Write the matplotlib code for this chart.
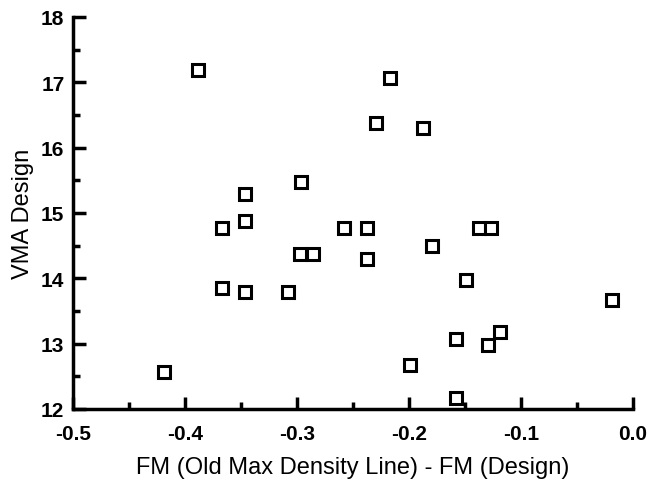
import matplotlib
matplotlib.use("Agg")
import matplotlib.pyplot as plt
from matplotlib.ticker import MultipleLocator

fm_diff = [-0.419, -0.388, -0.367, -0.367, -0.346, -0.346, -0.346, -0.308, -0.296,
           -0.297, -0.286, -0.258, -0.2375, -0.2375, -0.229, -0.217, -0.187, -0.179,
           -0.149, -0.137, -0.127, -0.158, -0.129, -0.119, -0.199, -0.158, -0.019]
vma_design = [12.57, 17.19, 14.77, 13.85, 15.29, 14.88, 13.79, 13.79, 15.48,
              14.37, 14.37, 14.77, 14.77, 14.30, 16.38, 17.07, 16.30, 14.50,
              13.98, 14.77, 14.77, 13.07, 12.98, 13.18, 12.67, 12.17, 13.67]

x_ticks = [-0.5, -0.4, -0.3, -0.2, -0.1, 0.0]
x_tick_labels = ["-0.5", "-0.4", "-0.3", "-0.2", "-0.1", "0.0"]
y_ticks = [12, 13, 14, 15, 16, 17, 18]

plt.rcParams["font.family"] = ["Liberation Sans", "DejaVu Sans"]

fig = plt.figure(figsize=(6.62, 4.85), dpi=100)
ax = fig.add_axes([0.110, 0.155, 0.846, 0.808])

ax.plot(fm_diff, vma_design, linestyle="none", marker="s", markersize=8.5,
        markerfacecolor="white", markeredgecolor="black", markeredgewidth=2.2,
        clip_on=False)

ax.set_xlim(-0.5, 0.0)
ax.set_ylim(12, 18)
ax.set_xticks(x_ticks)
ax.set_xticklabels(x_tick_labels)
ax.set_yticks(y_ticks)
ax.xaxis.set_minor_locator(MultipleLocator(0.05))
ax.yaxis.set_minor_locator(MultipleLocator(0.5))

for side in ("top", "right"):
    ax.spines[side].set_visible(False)
for side in ("left", "bottom"):
    ax.spines[side].set_linewidth(2.5)

ax.tick_params(which="major", direction="in", length=9, width=2.5, labelsize=15)
ax.tick_params(which="minor", direction="in", length=5, width=2.5)
ax.tick_params(axis="x", which="major", pad=11)
ax.tick_params(axis="y", which="major", pad=6)
for lbl in ax.get_xticklabels() + ax.get_yticklabels():
    lbl.set_fontweight("bold")

ax.set_xlabel("FM (Old Max Density Line) - FM (Design)", fontsize=17, labelpad=9)
ax.set_ylabel("VMA Design", fontsize=17, labelpad=5)

fig.savefig("out.png", dpi=100)
